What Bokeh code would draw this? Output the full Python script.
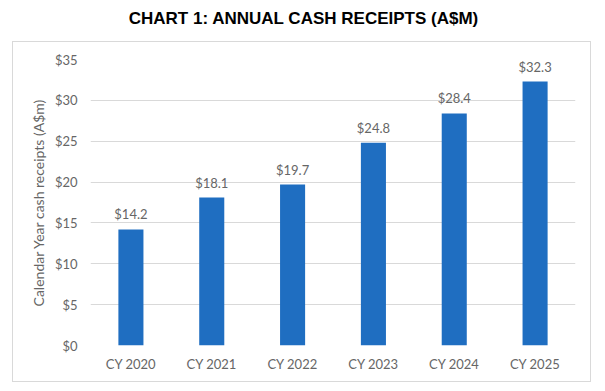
from bokeh.plotting import figure
from bokeh.models import Div, ColumnDataSource, FactorRange, Range1d, NumeralTickFormatter, LabelSet, FixedTicker, Spacer
from bokeh.core.properties import value
from bokeh.layouts import column, row
from bokeh.embed import file_html
from bokeh.resources import INLINE

categories = ["CY 2020", "CY 2021", "CY 2022", "CY 2023", "CY 2024", "CY 2025"]
values = [14.2, 18.1, 19.7, 24.8, 28.4, 32.3]
labels = ["$14.2", "$18.1", "$19.7", "$24.8", "$28.4", "$32.3"]
y_ticks = [0, 5, 10, 15, 20, 25, 30, 35]

TEXT = "#666666"
FONT = "Lato"

title = Div(
    text="CHART 1: ANNUAL CASH RECEIPTS (A$M)",
    width=597, height=31,
    styles={"font-family": "Liberation Sans, Arial, sans-serif", "font-weight": "bold",
            "font-size": "17px", "color": "#000000", "text-align": "center",
            "width": "597px", "padding-top": "2px"},
)

src = ColumnDataSource(dict(cat=categories, val=values, lab=labels))

p = figure(x_range=FactorRange(*categories), y_range=Range1d(0, 35),
           width=579, height=341, output_backend="svg", toolbar_location=None,
           min_border_left=77, min_border_right=17, min_border_top=17, min_border_bottom=38)
p.styles = {"border": "1px solid #D9D9D9"}
p.outline_line_color = None
p.vbar(x="cat", top="val", width=0.31, source=src, fill_color="#1F6EC1", line_color=None)

lbl = LabelSet(x="cat", y="val", text="lab", source=src, text_align="center",
               text_baseline="bottom", y_offset=7, text_font=value(FONT),
               text_font_size="13px", text_color=TEXT)
p.add_layout(lbl)

p.xgrid.grid_line_color = None
p.ygrid.grid_line_color = "#D9D9D9"
p.ygrid.grid_line_width = 1

p.yaxis.ticker = FixedTicker(ticks=y_ticks)
p.yaxis.formatter = NumeralTickFormatter(format="$0")
for ax in (p.xaxis[0], p.yaxis[0]):
    ax.axis_line_color = None
    ax.major_tick_line_color = None
    ax.minor_tick_line_color = None
    ax.major_tick_out = 0
    ax.major_tick_in = 0
    ax.minor_tick_out = 0
    ax.major_label_text_font = FONT
    ax.major_label_text_font_size = "13px"
    ax.major_label_text_color = TEXT
p.yaxis.major_label_standoff = 13
p.xaxis.major_label_standoff = 10
p.yaxis.axis_label = "Calendar Year cash receipts (A$m)"
p.yaxis.axis_label_text_font = FONT
p.yaxis.axis_label_text_font_size = "14px"
p.yaxis.axis_label_text_font_style = "normal"
p.yaxis.axis_label_text_color = TEXT
p.yaxis.axis_label_standoff = 5

layout = column(title, row(Spacer(width=12), p, spacing=0), spacing=0)
open("out.html", "w").write(file_html(layout, INLINE))
